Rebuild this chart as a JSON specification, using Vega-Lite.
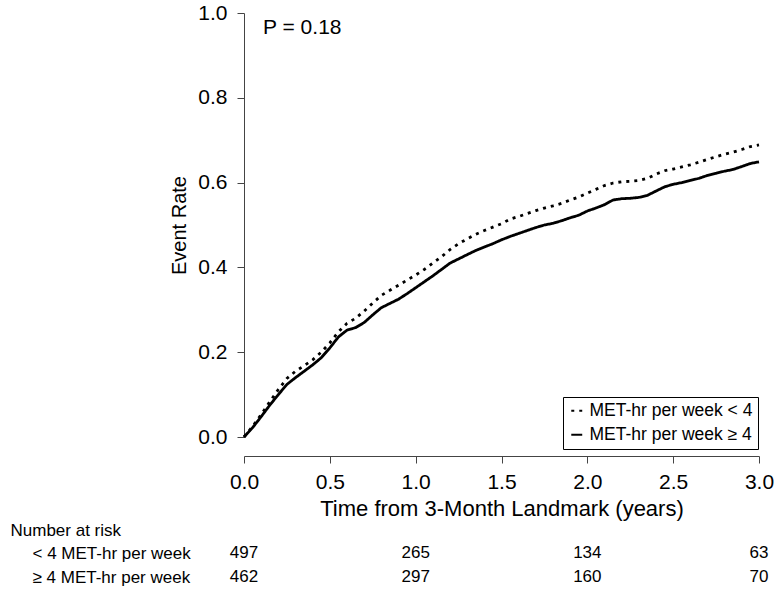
{
  "$schema": "https://vega.github.io/schema/vega-lite/v6.json",
  "width": 515,
  "height": 424,
  "autosize": {"type": "none"},
  "padding": {"left": 244, "top": 13, "right": 20, "bottom": 156},
  "background": "white",
  "config": {
    "view": {"stroke": null},
    "font": "Liberation Sans",
    "axis": {"grid": false, "domainColor": "#444", "tickColor": "#444", "labelColor": "black", "titleColor": "black", "labelFont": "Liberation Sans", "titleFont": "Liberation Sans", "titleFontWeight": "normal"}
  },
  "datasets": {
    "curves": [
      {"t":0.00,"r":0.000,"g":"MET-hr per week ≥ 4"},{"t":0.05,"r":0.022,"g":"MET-hr per week ≥ 4"},{"t":0.10,"r":0.048,"g":"MET-hr per week ≥ 4"},{"t":0.15,"r":0.075,"g":"MET-hr per week ≥ 4"},{"t":0.20,"r":0.100,"g":"MET-hr per week ≥ 4"},{"t":0.25,"r":0.124,"g":"MET-hr per week ≥ 4"},{"t":0.30,"r":0.140,"g":"MET-hr per week ≥ 4"},{"t":0.35,"r":0.155,"g":"MET-hr per week ≥ 4"},{"t":0.40,"r":0.170,"g":"MET-hr per week ≥ 4"},{"t":0.45,"r":0.187,"g":"MET-hr per week ≥ 4"},{"t":0.50,"r":0.210,"g":"MET-hr per week ≥ 4"},{"t":0.55,"r":0.236,"g":"MET-hr per week ≥ 4"},{"t":0.60,"r":0.252,"g":"MET-hr per week ≥ 4"},{"t":0.65,"r":0.258,"g":"MET-hr per week ≥ 4"},{"t":0.70,"r":0.270,"g":"MET-hr per week ≥ 4"},{"t":0.75,"r":0.288,"g":"MET-hr per week ≥ 4"},{"t":0.80,"r":0.305,"g":"MET-hr per week ≥ 4"},{"t":0.85,"r":0.315,"g":"MET-hr per week ≥ 4"},{"t":0.90,"r":0.325,"g":"MET-hr per week ≥ 4"},{"t":0.95,"r":0.338,"g":"MET-hr per week ≥ 4"},{"t":1.00,"r":0.352,"g":"MET-hr per week ≥ 4"},{"t":1.05,"r":0.366,"g":"MET-hr per week ≥ 4"},{"t":1.10,"r":0.380,"g":"MET-hr per week ≥ 4"},{"t":1.15,"r":0.395,"g":"MET-hr per week ≥ 4"},{"t":1.20,"r":0.410,"g":"MET-hr per week ≥ 4"},{"t":1.25,"r":0.420,"g":"MET-hr per week ≥ 4"},{"t":1.30,"r":0.430,"g":"MET-hr per week ≥ 4"},{"t":1.35,"r":0.440,"g":"MET-hr per week ≥ 4"},{"t":1.40,"r":0.448,"g":"MET-hr per week ≥ 4"},{"t":1.45,"r":0.456,"g":"MET-hr per week ≥ 4"},{"t":1.50,"r":0.465,"g":"MET-hr per week ≥ 4"},{"t":1.55,"r":0.473,"g":"MET-hr per week ≥ 4"},{"t":1.60,"r":0.480,"g":"MET-hr per week ≥ 4"},{"t":1.65,"r":0.487,"g":"MET-hr per week ≥ 4"},{"t":1.70,"r":0.494,"g":"MET-hr per week ≥ 4"},{"t":1.75,"r":0.500,"g":"MET-hr per week ≥ 4"},{"t":1.80,"r":0.504,"g":"MET-hr per week ≥ 4"},{"t":1.85,"r":0.510,"g":"MET-hr per week ≥ 4"},{"t":1.90,"r":0.517,"g":"MET-hr per week ≥ 4"},{"t":1.95,"r":0.523,"g":"MET-hr per week ≥ 4"},{"t":2.00,"r":0.533,"g":"MET-hr per week ≥ 4"},{"t":2.05,"r":0.540,"g":"MET-hr per week ≥ 4"},{"t":2.10,"r":0.548,"g":"MET-hr per week ≥ 4"},{"t":2.15,"r":0.559,"g":"MET-hr per week ≥ 4"},{"t":2.20,"r":0.562,"g":"MET-hr per week ≥ 4"},{"t":2.25,"r":0.563,"g":"MET-hr per week ≥ 4"},{"t":2.30,"r":0.565,"g":"MET-hr per week ≥ 4"},{"t":2.35,"r":0.570,"g":"MET-hr per week ≥ 4"},{"t":2.40,"r":0.580,"g":"MET-hr per week ≥ 4"},{"t":2.45,"r":0.590,"g":"MET-hr per week ≥ 4"},{"t":2.50,"r":0.596,"g":"MET-hr per week ≥ 4"},{"t":2.55,"r":0.600,"g":"MET-hr per week ≥ 4"},{"t":2.60,"r":0.605,"g":"MET-hr per week ≥ 4"},{"t":2.65,"r":0.610,"g":"MET-hr per week ≥ 4"},{"t":2.70,"r":0.617,"g":"MET-hr per week ≥ 4"},{"t":2.75,"r":0.622,"g":"MET-hr per week ≥ 4"},{"t":2.80,"r":0.627,"g":"MET-hr per week ≥ 4"},{"t":2.85,"r":0.631,"g":"MET-hr per week ≥ 4"},{"t":2.90,"r":0.638,"g":"MET-hr per week ≥ 4"},{"t":2.95,"r":0.645,"g":"MET-hr per week ≥ 4"},{"t":3.00,"r":0.649,"g":"MET-hr per week ≥ 4"},
      {"t":0.00,"r":0.000,"g":"MET-hr per week < 4"},{"t":0.05,"r":0.025,"g":"MET-hr per week < 4"},{"t":0.10,"r":0.053,"g":"MET-hr per week < 4"},{"t":0.15,"r":0.083,"g":"MET-hr per week < 4"},{"t":0.20,"r":0.112,"g":"MET-hr per week < 4"},{"t":0.25,"r":0.138,"g":"MET-hr per week < 4"},{"t":0.30,"r":0.155,"g":"MET-hr per week < 4"},{"t":0.35,"r":0.168,"g":"MET-hr per week < 4"},{"t":0.40,"r":0.182,"g":"MET-hr per week < 4"},{"t":0.45,"r":0.200,"g":"MET-hr per week < 4"},{"t":0.50,"r":0.222,"g":"MET-hr per week < 4"},{"t":0.55,"r":0.248,"g":"MET-hr per week < 4"},{"t":0.60,"r":0.268,"g":"MET-hr per week < 4"},{"t":0.65,"r":0.280,"g":"MET-hr per week < 4"},{"t":0.70,"r":0.297,"g":"MET-hr per week < 4"},{"t":0.75,"r":0.316,"g":"MET-hr per week < 4"},{"t":0.80,"r":0.334,"g":"MET-hr per week < 4"},{"t":0.85,"r":0.346,"g":"MET-hr per week < 4"},{"t":0.90,"r":0.358,"g":"MET-hr per week < 4"},{"t":0.95,"r":0.370,"g":"MET-hr per week < 4"},{"t":1.00,"r":0.382,"g":"MET-hr per week < 4"},{"t":1.05,"r":0.395,"g":"MET-hr per week < 4"},{"t":1.10,"r":0.410,"g":"MET-hr per week < 4"},{"t":1.15,"r":0.425,"g":"MET-hr per week < 4"},{"t":1.20,"r":0.442,"g":"MET-hr per week < 4"},{"t":1.25,"r":0.456,"g":"MET-hr per week < 4"},{"t":1.30,"r":0.467,"g":"MET-hr per week < 4"},{"t":1.35,"r":0.478,"g":"MET-hr per week < 4"},{"t":1.40,"r":0.487,"g":"MET-hr per week < 4"},{"t":1.45,"r":0.495,"g":"MET-hr per week < 4"},{"t":1.50,"r":0.503,"g":"MET-hr per week < 4"},{"t":1.55,"r":0.514,"g":"MET-hr per week < 4"},{"t":1.60,"r":0.520,"g":"MET-hr per week < 4"},{"t":1.65,"r":0.527,"g":"MET-hr per week < 4"},{"t":1.70,"r":0.534,"g":"MET-hr per week < 4"},{"t":1.75,"r":0.540,"g":"MET-hr per week < 4"},{"t":1.80,"r":0.545,"g":"MET-hr per week < 4"},{"t":1.85,"r":0.551,"g":"MET-hr per week < 4"},{"t":1.90,"r":0.559,"g":"MET-hr per week < 4"},{"t":1.95,"r":0.566,"g":"MET-hr per week < 4"},{"t":2.00,"r":0.575,"g":"MET-hr per week < 4"},{"t":2.05,"r":0.584,"g":"MET-hr per week < 4"},{"t":2.10,"r":0.593,"g":"MET-hr per week < 4"},{"t":2.15,"r":0.599,"g":"MET-hr per week < 4"},{"t":2.20,"r":0.602,"g":"MET-hr per week < 4"},{"t":2.25,"r":0.603,"g":"MET-hr per week < 4"},{"t":2.30,"r":0.605,"g":"MET-hr per week < 4"},{"t":2.35,"r":0.610,"g":"MET-hr per week < 4"},{"t":2.40,"r":0.620,"g":"MET-hr per week < 4"},{"t":2.45,"r":0.628,"g":"MET-hr per week < 4"},{"t":2.50,"r":0.632,"g":"MET-hr per week < 4"},{"t":2.55,"r":0.637,"g":"MET-hr per week < 4"},{"t":2.60,"r":0.642,"g":"MET-hr per week < 4"},{"t":2.65,"r":0.648,"g":"MET-hr per week < 4"},{"t":2.70,"r":0.655,"g":"MET-hr per week < 4"},{"t":2.75,"r":0.661,"g":"MET-hr per week < 4"},{"t":2.80,"r":0.667,"g":"MET-hr per week < 4"},{"t":2.85,"r":0.672,"g":"MET-hr per week < 4"},{"t":2.90,"r":0.678,"g":"MET-hr per week < 4"},{"t":2.95,"r":0.685,"g":"MET-hr per week < 4"},{"t":3.00,"r":0.689,"g":"MET-hr per week < 4"}
    ],
    "risk": [
      {"t":0,"grp":"< 4 MET-hr per week","n":497},{"t":1,"grp":"< 4 MET-hr per week","n":265},{"t":2,"grp":"< 4 MET-hr per week","n":134},{"t":3,"grp":"< 4 MET-hr per week","n":63},
      {"t":0,"grp":"≥ 4 MET-hr per week","n":462},{"t":1,"grp":"≥ 4 MET-hr per week","n":297},{"t":2,"grp":"≥ 4 MET-hr per week","n":160},{"t":3,"grp":"≥ 4 MET-hr per week","n":70}
    ]
  },
  "layer": [
    {
      "layer": [
        {
          "data": {"name": "curves"},
          "mark": {"type": "line", "interpolate": "linear", "strokeWidth": 2.8, "color": "black", "strokeCap": "butt"},
          "encoding": {
            "x": {"field": "t", "type": "quantitative", "scale": {"domain": [0, 3], "nice": false},
              "axis": {"title": "Time from 3-Month Landmark (years)", "values": [0, 0.5, 1, 1.5, 2, 2.5, 3], "format": ".1f", "offset": 19, "tickSize": 7, "labelFontSize": 21, "titleFontSize": 22, "labelPadding": 8, "titlePadding": 6, "labelFlush": false}},
            "y": {"field": "r", "type": "quantitative", "scale": {"domain": [0, 1], "nice": false},
              "axis": {"title": "Event Rate", "orient": "left", "values": [0, 0.2, 0.4, 0.6, 0.8, 1.0], "format": ".1f", "tickSize": 7, "labelFontSize": 21, "titleFontSize": 20, "labelPadding": 10, "titlePadding": 8}},
            "strokeDash": {"field": "g", "type": "nominal",
              "scale": {"domain": ["MET-hr per week < 4", "MET-hr per week ≥ 4"], "range": [[3, 5], [1, 0]]},
              "legend": {"title": null, "orient": "none", "legendX": 319, "legendY": 384, "strokeColor": "black", "fillColor": "white", "padding": 5, "cornerRadius": 0, "labelFontSize": 17.5, "labelFont": "Liberation Sans", "labelColor": "black", "rowPadding": 5, "symbolType": "stroke", "symbolStrokeColor": "black", "symbolStrokeWidth": 2, "symbolSize": 120, "labelLimit": 0}}
          }
        },
        {
          "data": {"values": [{}]},
          "mark": {"type": "text", "text": "P = 0.18", "fontSize": 21, "align": "left", "baseline": "middle", "font": "Liberation Sans", "color": "black"},
          "encoding": {
            "x": {"datum": 0.111, "type": "quantitative"},
            "y": {"datum": 0.965, "type": "quantitative"}
          }
        }
      ]
    },
    {
      "data": {"name": "risk"},
      "mark": {"type": "text", "fontSize": 17, "align": "center", "baseline": "middle", "font": "Liberation Sans", "color": "black"},
      "encoding": {
        "x": {"field": "t", "type": "quantitative"},
        "y": {"field": "grp", "type": "nominal",
          "scale": {"type": "point", "domain": ["< 4 MET-hr per week", "≥ 4 MET-hr per week"], "range": [540, 564], "padding": 0},
          "axis": {"orient": "left", "title": "Number at risk", "titleAngle": 0, "titleAlign": "left", "titleBaseline": "middle", "titleX": -234, "titleY": 517, "titleFontSize": 17, "domain": false, "ticks": false, "labelAlign": "left", "labelBaseline": "middle", "labelPadding": 212, "labelFontSize": 17, "labelLimit": 0}},
        "text": {"field": "n", "type": "quantitative"}
      }
    }
  ],
  "resolve": {"scale": {"y": "independent"}, "axis": {"y": "independent"}}
}
